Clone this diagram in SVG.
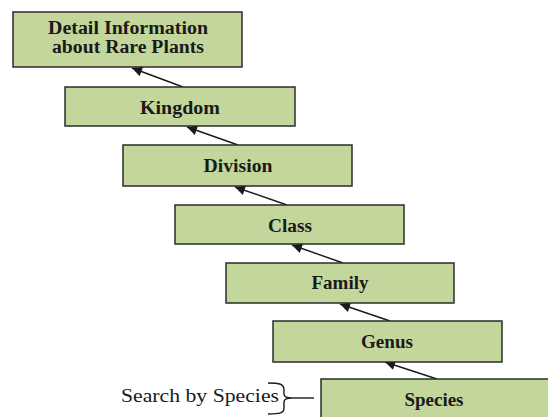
<svg xmlns="http://www.w3.org/2000/svg" width="548" height="417" viewBox="0 0 548 417">
<defs>
<style>
.box{fill:#c3d69b;stroke:#2b2b2b;stroke-width:1.5}
.lbl{font-family:"Liberation Serif","Times New Roman",serif;font-weight:bold;font-size:18px;fill:#1a1a1a;text-anchor:middle}
.note{font-family:"Liberation Serif","Times New Roman",serif;font-size:18px;fill:#1a1a1a}
.conn{stroke:#1a1a1a;stroke-width:1.4;fill:none}
</style>
<marker id="ah" viewBox="0 0 10 10" refX="10" refY="5" markerWidth="12" markerHeight="10" markerUnits="userSpaceOnUse" orient="auto">
<path d="M0,0 L10,5 L0,10 Z" fill="#1a1a1a"/>
</marker>
</defs>
<rect width="548" height="417" fill="#ffffff"/>
<g id="connectors">
<line class="conn" x1="183" y1="87" x2="132" y2="68" marker-end="url(#ah)"/>
<line class="conn" x1="238" y1="145" x2="187" y2="127" marker-end="url(#ah)"/>
<line class="conn" x1="287" y1="205" x2="235" y2="187" marker-end="url(#ah)"/>
<line class="conn" x1="343" y1="263" x2="292" y2="245" marker-end="url(#ah)"/>
<line class="conn" x1="390" y1="321" x2="340" y2="304" marker-end="url(#ah)"/>
<line class="conn" x1="437" y1="379" x2="385" y2="362" marker-end="url(#ah)"/>
</g>
<g id="detail">
<rect class="box" x="13" y="12" width="229" height="55"/>
<text class="lbl" x="128" y="34" textLength="160" lengthAdjust="spacingAndGlyphs">Detail Information</text>
<text class="lbl" x="128" y="53" textLength="152" lengthAdjust="spacingAndGlyphs">about Rare Plants</text>
</g>
<g id="kingdom">
<rect class="box" x="65" y="87" width="230" height="39"/>
<text class="lbl" x="180" y="114" textLength="80" lengthAdjust="spacingAndGlyphs">Kingdom</text>
</g>
<g id="division">
<rect class="box" x="123" y="145" width="229" height="41"/>
<text class="lbl" x="238" y="172" textLength="69" lengthAdjust="spacingAndGlyphs">Division</text>
</g>
<g id="class">
<rect class="box" x="175" y="205" width="229" height="39"/>
<text class="lbl" x="290" y="232" textLength="44" lengthAdjust="spacingAndGlyphs">Class</text>
</g>
<g id="family">
<rect class="box" x="226" y="263" width="228" height="40"/>
<text class="lbl" x="340" y="289" textLength="57" lengthAdjust="spacingAndGlyphs">Family</text>
</g>
<g id="genus">
<rect class="box" x="273" y="321" width="229" height="41"/>
<text class="lbl" x="387" y="348" textLength="52" lengthAdjust="spacingAndGlyphs">Genus</text>
</g>
<g id="species">
<rect class="box" x="321" y="379" width="229" height="41"/>
<text class="lbl" x="434" y="406" textLength="59" lengthAdjust="spacingAndGlyphs">Species</text>
</g>
<g id="search-note">
<text class="note" x="121" y="402" textLength="158" lengthAdjust="spacingAndGlyphs">Search by Species</text>
<path class="conn" d="M268,383 C280,383 284,384 284,390 L284,394 C284,397 287,398 292,398 C287,398 284,399 284,402 L284,408 C284,413 280,414 268,414"/>
<line class="conn" x1="292" y1="398" x2="314" y2="398"/>
</g>
</svg>
